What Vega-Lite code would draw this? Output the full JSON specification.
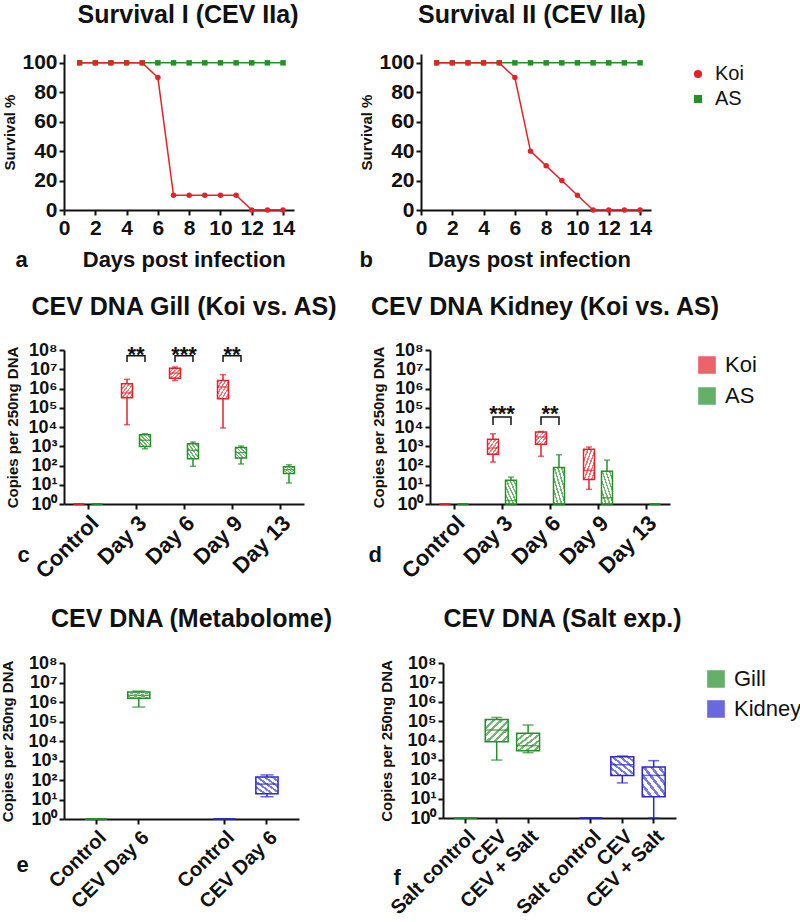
{
  "$schema": "https://vega.github.io/schema/vega-lite/v6.json",
  "background": "white",
  "padding": {"left": 0, "top": 2, "right": 2, "bottom": 0},
  "config": {
    "view": {"stroke": null},
    "font": "Liberation Sans",
    "axis": {"grid": false, "domainColor": "#111111", "domainWidth": 2, "tickColor": "#111111", "tickWidth": 2, "tickSize": 5, "labelColor": "#111111", "labelFont": "Liberation Sans", "labelFontWeight": "bold", "labelFontSize": 21, "labelPadding": 2, "labelFlush": false, "labelOverlap": false, "titleColor": "#111111", "titleFont": "Liberation Sans", "titleFontWeight": "bold", "titleFontSize": 15},
    "title": {"font": "Liberation Sans", "fontSize": 25, "fontWeight": "bold", "color": "#111111", "frame": "group", "anchor": "middle"},
    "legend": {"labelFont": "Liberation Sans", "labelColor": "#111111", "labelFontSize": 22}
  },
  "datasets": {
    "surv": [
      {"panel": "I", "group": "AS", "day": 1, "survival": 100}, {"panel": "I", "group": "AS", "day": 2, "survival": 100}, {"panel": "I", "group": "AS", "day": 3, "survival": 100}, {"panel": "I", "group": "AS", "day": 4, "survival": 100}, {"panel": "I", "group": "AS", "day": 5, "survival": 100}, {"panel": "I", "group": "AS", "day": 6, "survival": 100}, {"panel": "I", "group": "AS", "day": 7, "survival": 100}, {"panel": "I", "group": "AS", "day": 8, "survival": 100}, {"panel": "I", "group": "AS", "day": 9, "survival": 100}, {"panel": "I", "group": "AS", "day": 10, "survival": 100}, {"panel": "I", "group": "AS", "day": 11, "survival": 100}, {"panel": "I", "group": "AS", "day": 12, "survival": 100}, {"panel": "I", "group": "AS", "day": 13, "survival": 100}, {"panel": "I", "group": "AS", "day": 14, "survival": 100},
      {"panel": "I", "group": "Koi", "day": 1, "survival": 100}, {"panel": "I", "group": "Koi", "day": 2, "survival": 100}, {"panel": "I", "group": "Koi", "day": 3, "survival": 100}, {"panel": "I", "group": "Koi", "day": 4, "survival": 100}, {"panel": "I", "group": "Koi", "day": 5, "survival": 100}, {"panel": "I", "group": "Koi", "day": 6, "survival": 90}, {"panel": "I", "group": "Koi", "day": 7, "survival": 10}, {"panel": "I", "group": "Koi", "day": 8, "survival": 10}, {"panel": "I", "group": "Koi", "day": 9, "survival": 10}, {"panel": "I", "group": "Koi", "day": 10, "survival": 10}, {"panel": "I", "group": "Koi", "day": 11, "survival": 10}, {"panel": "I", "group": "Koi", "day": 12, "survival": 0}, {"panel": "I", "group": "Koi", "day": 13, "survival": 0}, {"panel": "I", "group": "Koi", "day": 14, "survival": 0},
      {"panel": "II", "group": "AS", "day": 1, "survival": 100}, {"panel": "II", "group": "AS", "day": 2, "survival": 100}, {"panel": "II", "group": "AS", "day": 3, "survival": 100}, {"panel": "II", "group": "AS", "day": 4, "survival": 100}, {"panel": "II", "group": "AS", "day": 5, "survival": 100}, {"panel": "II", "group": "AS", "day": 6, "survival": 100}, {"panel": "II", "group": "AS", "day": 7, "survival": 100}, {"panel": "II", "group": "AS", "day": 8, "survival": 100}, {"panel": "II", "group": "AS", "day": 9, "survival": 100}, {"panel": "II", "group": "AS", "day": 10, "survival": 100}, {"panel": "II", "group": "AS", "day": 11, "survival": 100}, {"panel": "II", "group": "AS", "day": 12, "survival": 100}, {"panel": "II", "group": "AS", "day": 13, "survival": 100}, {"panel": "II", "group": "AS", "day": 14, "survival": 100},
      {"panel": "II", "group": "Koi", "day": 1, "survival": 100}, {"panel": "II", "group": "Koi", "day": 2, "survival": 100}, {"panel": "II", "group": "Koi", "day": 3, "survival": 100}, {"panel": "II", "group": "Koi", "day": 4, "survival": 100}, {"panel": "II", "group": "Koi", "day": 5, "survival": 100}, {"panel": "II", "group": "Koi", "day": 6, "survival": 90}, {"panel": "II", "group": "Koi", "day": 7, "survival": 40}, {"panel": "II", "group": "Koi", "day": 8, "survival": 30}, {"panel": "II", "group": "Koi", "day": 9, "survival": 20}, {"panel": "II", "group": "Koi", "day": 10, "survival": 10}, {"panel": "II", "group": "Koi", "day": 11, "survival": 0}, {"panel": "II", "group": "Koi", "day": 12, "survival": 0}, {"panel": "II", "group": "Koi", "day": 13, "survival": 0}, {"panel": "II", "group": "Koi", "day": 14, "survival": 0}
    ],
    "boxes": [
      {"panel": "c", "cat": "Control", "group": "Koi", "min": 1, "q1": 1, "median": 1, "q3": 1, "max": 1},
      {"panel": "c", "cat": "Control", "group": "AS", "min": 1, "q1": 1, "median": 1, "q3": 1, "max": 1},
      {"panel": "c", "cat": "Day 3", "group": "Koi", "min": 13200, "q1": 331000, "median": 589000, "q3": 1780000, "max": 3020000},
      {"panel": "c", "cat": "Day 3", "group": "AS", "min": 741, "q1": 977, "median": 2040, "q3": 3980, "max": 4470},
      {"panel": "c", "cat": "Day 6", "group": "Koi", "min": 2570000, "q1": 3390000, "median": 6310000, "q3": 11200000, "max": 13200000},
      {"panel": "c", "cat": "Day 6", "group": "AS", "min": 91, "q1": 224, "median": 617, "q3": 1350, "max": 1660},
      {"panel": "c", "cat": "Day 9", "group": "Koi", "min": 8910, "q1": 295000, "median": 1200000, "q3": 2570000, "max": 5250000},
      {"panel": "c", "cat": "Day 9", "group": "AS", "min": 120, "q1": 245, "median": 468, "q3": 851, "max": 1020},
      {"panel": "c", "cat": "Day 13", "group": "AS", "min": 12.3, "q1": 38.9, "median": 60.3, "q3": 87.1, "max": 110},
      {"panel": "d", "cat": "Control", "group": "Koi", "min": 1, "q1": 1, "median": 1, "q3": 1, "max": 1},
      {"panel": "d", "cat": "Control", "group": "AS", "min": 1, "q1": 1, "median": 1, "q3": 1, "max": 1},
      {"panel": "d", "cat": "Day 3", "group": "Koi", "min": 151, "q1": 380, "median": 813, "q3": 2290, "max": 4470},
      {"panel": "d", "cat": "Day 3", "group": "AS", "min": 1, "q1": 1, "median": 1.5, "q3": 17, "max": 25},
      {"panel": "d", "cat": "Day 6", "group": "Koi", "min": 302, "q1": 1260, "median": 3020, "q3": 5500, "max": 5890},
      {"panel": "d", "cat": "Day 6", "group": "AS", "min": 1, "q1": 1, "median": 1, "q3": 79, "max": 363},
      {"panel": "d", "cat": "Day 9", "group": "Koi", "min": 5.75, "q1": 19, "median": 56, "q3": 692, "max": 912},
      {"panel": "d", "cat": "Day 9", "group": "AS", "min": 1, "q1": 1, "median": 2.1, "q3": 50, "max": 190},
      {"panel": "d", "cat": "Day 13", "group": "AS", "min": 1, "q1": 1, "median": 1, "q3": 1, "max": 1},
      {"panel": "e", "cat": "Gill|Control", "group": "Gill", "min": 1, "q1": 1, "median": 1, "q3": 1, "max": 1},
      {"panel": "e", "cat": "Gill|CEV Day 6", "group": "Gill", "min": 550000, "q1": 1550000, "median": 2190000, "q3": 3240000, "max": 3630000},
      {"panel": "e", "cat": "Kidney|Control", "group": "Kidney", "min": 1, "q1": 1, "median": 1, "q3": 1, "max": 1},
      {"panel": "e", "cat": "Kidney|CEV Day 6", "group": "Kidney", "min": 13.8, "q1": 20, "median": 61.7, "q3": 141, "max": 182},
      {"panel": "f", "cat": "Gill|Salt control", "group": "Gill", "min": 1, "q1": 1, "median": 1, "q3": 1, "max": 1},
      {"panel": "f", "cat": "Gill|CEV", "group": "Gill", "min": 977, "q1": 8710, "median": 34700, "q3": 123000, "max": 155000},
      {"panel": "f", "cat": "Gill|CEV + Salt", "group": "Gill", "min": 2340, "q1": 2950, "median": 5370, "q3": 24000, "max": 63100},
      {"panel": "f", "cat": "Kidney|Salt control", "group": "Kidney", "min": 1, "q1": 1, "median": 1, "q3": 1, "max": 1},
      {"panel": "f", "cat": "Kidney|CEV", "group": "Kidney", "min": 64.6, "q1": 158, "median": 562, "q3": 1450, "max": 1580},
      {"panel": "f", "cat": "Kidney|CEV + Salt", "group": "Kidney", "min": 1, "q1": 12.6, "median": 158, "q3": 427, "max": 912}
    ],
    "brackets": [
      {"panel": "c", "cat": "Day 3", "group": "Koi", "by": 24000000, "ord": 1}, {"panel": "c", "cat": "Day 3", "group": "Koi", "by": 50000000, "ord": 2}, {"panel": "c", "cat": "Day 3", "group": "AS", "by": 50000000, "ord": 3}, {"panel": "c", "cat": "Day 3", "group": "AS", "by": 24000000, "ord": 4},
      {"panel": "c", "cat": "Day 6", "group": "Koi", "by": 24000000, "ord": 1}, {"panel": "c", "cat": "Day 6", "group": "Koi", "by": 50000000, "ord": 2}, {"panel": "c", "cat": "Day 6", "group": "AS", "by": 50000000, "ord": 3}, {"panel": "c", "cat": "Day 6", "group": "AS", "by": 24000000, "ord": 4},
      {"panel": "c", "cat": "Day 9", "group": "Koi", "by": 24000000, "ord": 1}, {"panel": "c", "cat": "Day 9", "group": "Koi", "by": 50000000, "ord": 2}, {"panel": "c", "cat": "Day 9", "group": "AS", "by": 50000000, "ord": 3}, {"panel": "c", "cat": "Day 9", "group": "AS", "by": 24000000, "ord": 4},
      {"panel": "d", "cat": "Day 3", "group": "Koi", "by": 12600, "ord": 1}, {"panel": "d", "cat": "Day 3", "group": "Koi", "by": 33000, "ord": 2}, {"panel": "d", "cat": "Day 3", "group": "AS", "by": 33000, "ord": 3}, {"panel": "d", "cat": "Day 3", "group": "AS", "by": 12600, "ord": 4},
      {"panel": "d", "cat": "Day 6", "group": "Koi", "by": 12600, "ord": 1}, {"panel": "d", "cat": "Day 6", "group": "Koi", "by": 33000, "ord": 2}, {"panel": "d", "cat": "Day 6", "group": "AS", "by": 33000, "ord": 3}, {"panel": "d", "cat": "Day 6", "group": "AS", "by": 12600, "ord": 4}
    ],
    "stars": [
      {"panel": "c", "cat": "Day 3", "label": "**", "sy": 25000000},
      {"panel": "c", "cat": "Day 6", "label": "***", "sy": 25000000},
      {"panel": "c", "cat": "Day 9", "label": "**", "sy": 25000000},
      {"panel": "d", "cat": "Day 3", "label": "***", "sy": 19500},
      {"panel": "d", "cat": "Day 6", "label": "**", "sy": 19500}
    ]
  },
  "spacing": 25,
  "resolve": {"scale": {"color": "independent", "stroke": "independent", "shape": "independent"}},
  "vconcat": [
    {
      "hconcat": [
        {
          "width": 230, "height": 156,
          "title": {"text": "Survival I (CEV IIa)", "offset": 24, "dx": 9},
          "data": {"name": "surv"},
          "transform": [{"filter": "datum.panel === 'I'"}],
          "encoding": {
            "x": {"field": "day", "type": "quantitative", "scale": {"domain": [0, 14.7], "nice": false}, "axis": {"values": [0, 2, 4, 6, 8, 10, 12, 14], "title": "a\u00a0\u00a0\u00a0\u00a0\u00a0\u00a0\u00a0\u00a0\u00a0Days post infection", "titleFontSize": 22, "titleAlign": "left", "titleAnchor": "start", "titleX": -49, "titlePadding": 11}},
            "y": {"field": "survival", "type": "quantitative", "scale": {"domain": [0, 106], "nice": false}, "axis": {"values": [0, 20, 40, 60, 80, 100], "title": "Survival %", "titlePadding": 4}},
            "color": {"field": "group", "type": "nominal", "scale": {"domain": ["Koi", "AS"], "range": ["#e3232b", "#24902a"]}, "legend": null}
          },
          "layer": [
            {"mark": {"type": "line", "strokeWidth": 1.5}},
            {"mark": {"type": "point", "filled": true, "size": 30, "opacity": 1}, "encoding": {"shape": {"field": "group", "type": "nominal", "scale": {"domain": ["Koi", "AS"], "range": ["circle", "square"]}, "legend": null}}}
          ]
        },
        {
          "width": 230, "height": 156,
          "title": {"text": "Survival II (CEV IIa)", "offset": 24, "dx": -4},
          "data": {"name": "surv"},
          "transform": [{"filter": "datum.panel === 'II'"}],
          "encoding": {
            "x": {"field": "day", "type": "quantitative", "scale": {"domain": [0, 14.7], "nice": false}, "axis": {"values": [0, 2, 4, 6, 8, 10, 12, 14], "title": "b\u00a0\u00a0\u00a0\u00a0\u00a0\u00a0\u00a0\u00a0\u00a0Days post infection", "titleFontSize": 22, "titleAlign": "left", "titleAnchor": "start", "titleX": -62, "titlePadding": 11}},
            "y": {"field": "survival", "type": "quantitative", "scale": {"domain": [0, 106], "nice": false}, "axis": {"values": [0, 20, 40, 60, 80, 100], "title": "Survival %", "titlePadding": 4}},
            "color": {"field": "group", "type": "nominal", "scale": {"domain": ["Koi", "AS"], "range": ["#e3232b", "#24902a"]}, "legend": {"title": null, "offset": 27, "padding": 10, "symbolSize": 45, "labelFontSize": 20, "labelFontWeight": "normal", "rowPadding": 5, "labelOffset": 7}}
          },
          "layer": [
            {"mark": {"type": "line", "strokeWidth": 1.5}},
            {"mark": {"type": "point", "filled": true, "size": 30, "opacity": 1}, "encoding": {"shape": {"field": "group", "type": "nominal", "scale": {"domain": ["Koi", "AS"], "range": ["circle", "square"]}, "legend": {"title": null, "offset": 27, "padding": 10, "symbolSize": 45, "labelFontSize": 20, "labelFontWeight": "normal", "rowPadding": 5, "labelOffset": 7}}}}
          ]
        }
      ],
      "spacing": 60,
      "resolve": {"scale": {"color": "independent", "stroke": "independent", "shape": "independent"}}
    },
    {
      "spacing": 24,
      "resolve": {"scale": {"color": "independent", "stroke": "independent", "shape": "independent"}},
      "vconcat": [
        {
          "hconcat": [
            {
              "width": 240, "height": 154,
              "title": {"text": "CEV DNA Gill (Koi vs. AS)", "offset": 21},
              "layer": [
                {
                  "data": {"name": "boxes"}, "transform": [{"filter": "datum.panel === 'c'"}],
                  "mark": {"type": "rule", "strokeWidth": 1.5},
                  "encoding": {
                    "x": {"field": "cat", "type": "nominal", "sort": null, "scale": {"domain": ["Control", "Day 3", "Day 6", "Day 9", "Day 13"], "paddingInner": 0, "paddingOuter": 0}, "axis": {"labelAngle": -45, "labelFontSize": 22, "title": "c", "titleFontSize": 22, "titleAlign": "left", "titleX": -47, "titleY": 57, "titleBaseline": "alphabetic", "labelPadding": 3}},
                    "xOffset": {"field": "group", "type": "nominal", "scale": {"domain": ["Koi", "AS"], "paddingInner": 0.39, "paddingOuter": 0.53}},
                    "y": {"field": "min", "type": "quantitative", "scale": {"type": "log", "domain": [1, 100000000], "nice": false}, "axis": {"title": "Copies per 250ng DNA", "values": [1, 10, 100, 1000, 10000, 100000, 1000000, 10000000, 100000000], "labelExpr": "'10' + ['⁰','¹','²','³','⁴','⁵','⁶','⁷','⁸'][round(log(datum.value)/LN10)]", "labelFontSize": 18, "titlePadding": 8}},
                    "y2": {"field": "max"},
                    "color": {"field": "group", "type": "nominal", "scale": {"domain": ["Koi", "AS"], "range": ["#e3232b", "#24902a"]}, "legend": null}
                  }
                },
                {
                  "data": {"name": "boxes"}, "transform": [{"filter": "datum.panel === 'c' && datum.group === 'Koi'"}],
                  "mark": {"type": "bar", "strokeWidth": 1.5, "fill": {"gradient": "linear", "x1": 0, "y1": 0, "x2": 1, "y2": 1, "stops": [{"offset":0,"color":"#ee7479"},{"offset":0.07,"color":"#ee7479"},{"offset":0.07,"color":"#ffffff"},{"offset":0.1667,"color":"#ffffff"},{"offset":0.1667,"color":"#ee7479"},{"offset":0.2367,"color":"#ee7479"},{"offset":0.2367,"color":"#ffffff"},{"offset":0.3333,"color":"#ffffff"},{"offset":0.3333,"color":"#ee7479"},{"offset":0.4033,"color":"#ee7479"},{"offset":0.4033,"color":"#ffffff"},{"offset":0.5,"color":"#ffffff"},{"offset":0.5,"color":"#ee7479"},{"offset":0.57,"color":"#ee7479"},{"offset":0.57,"color":"#ffffff"},{"offset":0.6667,"color":"#ffffff"},{"offset":0.6667,"color":"#ee7479"},{"offset":0.7367,"color":"#ee7479"},{"offset":0.7367,"color":"#ffffff"},{"offset":0.8333,"color":"#ffffff"},{"offset":0.8333,"color":"#ee7479"},{"offset":0.9033,"color":"#ee7479"},{"offset":0.9033,"color":"#ffffff"},{"offset":1,"color":"#ffffff"}]}},
                  "encoding": {
                    "x": {"field": "cat", "type": "nominal", "sort": null},
                    "xOffset": {"field": "group", "type": "nominal"},
                    "y": {"field": "q1", "type": "quantitative"},
                    "y2": {"field": "q3"},
                    "stroke": {"field": "group", "type": "nominal", "scale": {"domain": ["Koi", "AS"], "range": ["#e3232b", "#24902a"]}, "legend": null}
                  }
                },
                {
                  "data": {"name": "boxes"}, "transform": [{"filter": "datum.panel === 'c' && datum.group === 'AS'"}],
                  "mark": {"type": "bar", "strokeWidth": 1.5, "fill": {"gradient": "linear", "x1": 0, "y1": 1, "x2": 1, "y2": 0, "stops": [{"offset":0,"color":"#72b874"},{"offset":0.07,"color":"#72b874"},{"offset":0.07,"color":"#ffffff"},{"offset":0.1667,"color":"#ffffff"},{"offset":0.1667,"color":"#72b874"},{"offset":0.2367,"color":"#72b874"},{"offset":0.2367,"color":"#ffffff"},{"offset":0.3333,"color":"#ffffff"},{"offset":0.3333,"color":"#72b874"},{"offset":0.4033,"color":"#72b874"},{"offset":0.4033,"color":"#ffffff"},{"offset":0.5,"color":"#ffffff"},{"offset":0.5,"color":"#72b874"},{"offset":0.57,"color":"#72b874"},{"offset":0.57,"color":"#ffffff"},{"offset":0.6667,"color":"#ffffff"},{"offset":0.6667,"color":"#72b874"},{"offset":0.7367,"color":"#72b874"},{"offset":0.7367,"color":"#ffffff"},{"offset":0.8333,"color":"#ffffff"},{"offset":0.8333,"color":"#72b874"},{"offset":0.9033,"color":"#72b874"},{"offset":0.9033,"color":"#ffffff"},{"offset":1,"color":"#ffffff"}]}},
                  "encoding": {
                    "x": {"field": "cat", "type": "nominal", "sort": null},
                    "xOffset": {"field": "group", "type": "nominal"},
                    "y": {"field": "q1", "type": "quantitative"},
                    "y2": {"field": "q3"},
                    "stroke": {"field": "group", "type": "nominal", "legend": null}
                  }
                },
                {
                  "data": {"name": "boxes"}, "transform": [{"filter": "datum.panel === 'c'"}],
                  "mark": {"type": "tick", "thickness": 1.5, "size": 11},
                  "encoding": {
                    "x": {"field": "cat", "type": "nominal", "sort": null},
                    "xOffset": {"field": "group", "type": "nominal"},
                    "y": {"field": "median", "type": "quantitative"},
                    "color": {"field": "group", "type": "nominal", "legend": null}
                  }
                },
                {
                  "data": {"name": "boxes"}, "transform": [{"filter": "datum.panel === 'c'"}, {"fold": ["min", "max"], "as": ["stat", "v"]}],
                  "mark": {"type": "tick", "thickness": 1.5, "size": 6},
                  "encoding": {
                    "x": {"field": "cat", "type": "nominal", "sort": null},
                    "xOffset": {"field": "group", "type": "nominal"},
                    "y": {"field": "v", "type": "quantitative"},
                    "color": {"field": "group", "type": "nominal", "legend": null}
                  }
                },
                {
                  "data": {"name": "brackets"}, "transform": [{"filter": "datum.panel === 'c'"}],
                  "mark": {"type": "line", "color": "#111111", "strokeWidth": 1.5},
                  "encoding": {
                    "x": {"field": "cat", "type": "nominal", "sort": null},
                    "xOffset": {"field": "group", "type": "nominal"},
                    "y": {"field": "by", "type": "quantitative"},
                    "detail": {"field": "cat", "type": "nominal"},
                    "order": {"field": "ord", "type": "quantitative"}
                  }
                },
                {
                  "data": {"name": "stars"}, "transform": [{"filter": "datum.panel === 'c'"}],
                  "mark": {"type": "text", "fontSize": 22, "fontWeight": "bold", "baseline": "alphabetic", "align": "center", "color": "#111111"},
                  "encoding": {
                    "x": {"field": "cat", "type": "nominal", "sort": null},
                    "y": {"field": "sy", "type": "quantitative"},
                    "text": {"field": "label"}
                  }
                }
              ]
            },
            {
              "width": 240, "height": 154,
              "title": {"text": "CEV DNA Kidney (Koi vs. AS)", "offset": 21, "dx": -5},
              "layer": [
                {
                  "data": {"name": "boxes"}, "transform": [{"filter": "datum.panel === 'd'"}],
                  "mark": {"type": "rule", "strokeWidth": 1.5},
                  "encoding": {
                    "x": {"field": "cat", "type": "nominal", "sort": null, "scale": {"domain": ["Control", "Day 3", "Day 6", "Day 9", "Day 13"], "paddingInner": 0, "paddingOuter": 0}, "axis": {"labelAngle": -45, "labelFontSize": 22, "title": "d", "titleFontSize": 22, "titleAlign": "left", "titleX": -62, "titleY": 57, "titleBaseline": "alphabetic", "labelPadding": 3}},
                    "xOffset": {"field": "group", "type": "nominal", "scale": {"domain": ["Koi", "AS"], "paddingInner": 0.39, "paddingOuter": 0.53}},
                    "y": {"field": "min", "type": "quantitative", "scale": {"type": "log", "domain": [1, 100000000], "nice": false}, "axis": {"title": "Copies per 250ng DNA", "values": [1, 10, 100, 1000, 10000, 100000, 1000000, 10000000, 100000000], "labelExpr": "'10' + ['⁰','¹','²','³','⁴','⁵','⁶','⁷','⁸'][round(log(datum.value)/LN10)]", "labelFontSize": 18, "titlePadding": 8}},
                    "y2": {"field": "max"},
                    "color": {"field": "group", "type": "nominal", "scale": {"domain": ["Koi", "AS"], "range": ["#e3232b", "#24902a"]}, "legend": {"title": null, "offset": 22, "padding": 4, "symbolType": "square", "symbolSize": 260, "symbolStrokeWidth": 1.5, "symbolOpacity": 0.7, "labelFontSize": 22, "labelFontWeight": "normal", "rowPadding": 7, "labelOffset": 7}}
                  }
                },
                {
                  "data": {"name": "boxes"}, "transform": [{"filter": "datum.panel === 'd' && datum.group === 'Koi'"}],
                  "mark": {"type": "bar", "strokeWidth": 1.5, "fill": {"gradient": "linear", "x1": 0, "y1": 0, "x2": 1, "y2": 1, "stops": [{"offset":0,"color":"#ee7479"},{"offset":0.07,"color":"#ee7479"},{"offset":0.07,"color":"#ffffff"},{"offset":0.1667,"color":"#ffffff"},{"offset":0.1667,"color":"#ee7479"},{"offset":0.2367,"color":"#ee7479"},{"offset":0.2367,"color":"#ffffff"},{"offset":0.3333,"color":"#ffffff"},{"offset":0.3333,"color":"#ee7479"},{"offset":0.4033,"color":"#ee7479"},{"offset":0.4033,"color":"#ffffff"},{"offset":0.5,"color":"#ffffff"},{"offset":0.5,"color":"#ee7479"},{"offset":0.57,"color":"#ee7479"},{"offset":0.57,"color":"#ffffff"},{"offset":0.6667,"color":"#ffffff"},{"offset":0.6667,"color":"#ee7479"},{"offset":0.7367,"color":"#ee7479"},{"offset":0.7367,"color":"#ffffff"},{"offset":0.8333,"color":"#ffffff"},{"offset":0.8333,"color":"#ee7479"},{"offset":0.9033,"color":"#ee7479"},{"offset":0.9033,"color":"#ffffff"},{"offset":1,"color":"#ffffff"}]}},
                  "encoding": {
                    "x": {"field": "cat", "type": "nominal", "sort": null},
                    "xOffset": {"field": "group", "type": "nominal"},
                    "y": {"field": "q1", "type": "quantitative"},
                    "y2": {"field": "q3"},
                    "stroke": {"field": "group", "type": "nominal", "scale": {"domain": ["Koi", "AS"], "range": ["#e3232b", "#24902a"]}, "legend": null}
                  }
                },
                {
                  "data": {"name": "boxes"}, "transform": [{"filter": "datum.panel === 'd' && datum.group === 'AS'"}],
                  "mark": {"type": "bar", "strokeWidth": 1.5, "fill": {"gradient": "linear", "x1": 0, "y1": 1, "x2": 1, "y2": 0, "stops": [{"offset":0,"color":"#72b874"},{"offset":0.07,"color":"#72b874"},{"offset":0.07,"color":"#ffffff"},{"offset":0.1667,"color":"#ffffff"},{"offset":0.1667,"color":"#72b874"},{"offset":0.2367,"color":"#72b874"},{"offset":0.2367,"color":"#ffffff"},{"offset":0.3333,"color":"#ffffff"},{"offset":0.3333,"color":"#72b874"},{"offset":0.4033,"color":"#72b874"},{"offset":0.4033,"color":"#ffffff"},{"offset":0.5,"color":"#ffffff"},{"offset":0.5,"color":"#72b874"},{"offset":0.57,"color":"#72b874"},{"offset":0.57,"color":"#ffffff"},{"offset":0.6667,"color":"#ffffff"},{"offset":0.6667,"color":"#72b874"},{"offset":0.7367,"color":"#72b874"},{"offset":0.7367,"color":"#ffffff"},{"offset":0.8333,"color":"#ffffff"},{"offset":0.8333,"color":"#72b874"},{"offset":0.9033,"color":"#72b874"},{"offset":0.9033,"color":"#ffffff"},{"offset":1,"color":"#ffffff"}]}},
                  "encoding": {
                    "x": {"field": "cat", "type": "nominal", "sort": null},
                    "xOffset": {"field": "group", "type": "nominal"},
                    "y": {"field": "q1", "type": "quantitative"},
                    "y2": {"field": "q3"},
                    "stroke": {"field": "group", "type": "nominal", "legend": null}
                  }
                },
                {
                  "data": {"name": "boxes"}, "transform": [{"filter": "datum.panel === 'd'"}],
                  "mark": {"type": "tick", "thickness": 1.5, "size": 11},
                  "encoding": {
                    "x": {"field": "cat", "type": "nominal", "sort": null},
                    "xOffset": {"field": "group", "type": "nominal"},
                    "y": {"field": "median", "type": "quantitative"},
                    "color": {"field": "group", "type": "nominal"}
                  }
                },
                {
                  "data": {"name": "boxes"}, "transform": [{"filter": "datum.panel === 'd'"}, {"fold": ["min", "max"], "as": ["stat", "v"]}],
                  "mark": {"type": "tick", "thickness": 1.5, "size": 6},
                  "encoding": {
                    "x": {"field": "cat", "type": "nominal", "sort": null},
                    "xOffset": {"field": "group", "type": "nominal"},
                    "y": {"field": "v", "type": "quantitative"},
                    "color": {"field": "group", "type": "nominal"}
                  }
                },
                {
                  "data": {"name": "brackets"}, "transform": [{"filter": "datum.panel === 'd'"}],
                  "mark": {"type": "line", "color": "#111111", "strokeWidth": 1.5},
                  "encoding": {
                    "x": {"field": "cat", "type": "nominal", "sort": null},
                    "xOffset": {"field": "group", "type": "nominal"},
                    "y": {"field": "by", "type": "quantitative"},
                    "detail": {"field": "cat", "type": "nominal"},
                    "order": {"field": "ord", "type": "quantitative"}
                  }
                },
                {
                  "data": {"name": "stars"}, "transform": [{"filter": "datum.panel === 'd'"}],
                  "mark": {"type": "text", "fontSize": 22, "fontWeight": "bold", "baseline": "alphabetic", "align": "center", "color": "#111111"},
                  "encoding": {
                    "x": {"field": "cat", "type": "nominal", "sort": null},
                    "y": {"field": "sy", "type": "quantitative"},
                    "text": {"field": "label"}
                  }
                }
              ]
            }
          ],
          "spacing": 30,
          "resolve": {"scale": {"color": "independent", "stroke": "independent", "shape": "independent"}}
        },
        {
          "hconcat": [
            {
              "width": 235, "height": 156,
              "title": {"text": "CEV DNA (Metabolome)", "offset": 22, "dx": 10},
              "data": {"name": "boxes"},
              "transform": [{"filter": "datum.panel === 'e'"}],
              "layer": [
                {
                  "mark": {"type": "rule", "strokeWidth": 1.5},
                  "encoding": {
                    "x": {"field": "cat", "type": "nominal", "sort": null, "scale": {"domain": ["Gill|Control", "Gill|CEV Day 6", "gap", "Kidney|Control", "Kidney|CEV Day 6"], "paddingInner": 0, "paddingOuter": 0.25}, "axis": {"values": ["Gill|Control", "Gill|CEV Day 6", "Kidney|Control", "Kidney|CEV Day 6"], "labelExpr": "split(datum.value, '|')[1]", "labelAngle": -45, "labelFontSize": 20, "title": "e", "titleFontSize": 22, "titleAlign": "left", "titleX": -48, "titleY": 52, "titleBaseline": "alphabetic", "labelPadding": 3}},
                    "y": {"field": "min", "type": "quantitative", "scale": {"type": "log", "domain": [1, 100000000], "nice": false}, "axis": {"title": "Copies per 250ng DNA", "values": [1, 10, 100, 1000, 10000, 100000, 1000000, 10000000, 100000000], "labelExpr": "'10' + ['⁰','¹','²','³','⁴','⁵','⁶','⁷','⁸'][round(log(datum.value)/LN10)]", "labelFontSize": 18, "titlePadding": 13}},
                    "y2": {"field": "max"},
                    "color": {"field": "group", "type": "nominal", "scale": {"domain": ["Gill", "Kidney"], "range": ["#24902a", "#2a2ad0"]}, "legend": null}
                  }
                },
                {
                  "transform": [{"filter": "datum.group === 'Gill'"}],
                  "mark": {"type": "bar", "strokeWidth": 1.5, "width": {"band": 0.52}, "fill": {"gradient": "linear", "x1": 0, "y1": 0, "x2": 1, "y2": 1, "stops": [{"offset":0,"color":"#72b874"},{"offset":0.07,"color":"#72b874"},{"offset":0.07,"color":"#ffffff"},{"offset":0.1667,"color":"#ffffff"},{"offset":0.1667,"color":"#72b874"},{"offset":0.2367,"color":"#72b874"},{"offset":0.2367,"color":"#ffffff"},{"offset":0.3333,"color":"#ffffff"},{"offset":0.3333,"color":"#72b874"},{"offset":0.4033,"color":"#72b874"},{"offset":0.4033,"color":"#ffffff"},{"offset":0.5,"color":"#ffffff"},{"offset":0.5,"color":"#72b874"},{"offset":0.57,"color":"#72b874"},{"offset":0.57,"color":"#ffffff"},{"offset":0.6667,"color":"#ffffff"},{"offset":0.6667,"color":"#72b874"},{"offset":0.7367,"color":"#72b874"},{"offset":0.7367,"color":"#ffffff"},{"offset":0.8333,"color":"#ffffff"},{"offset":0.8333,"color":"#72b874"},{"offset":0.9033,"color":"#72b874"},{"offset":0.9033,"color":"#ffffff"},{"offset":1,"color":"#ffffff"}]}},
                  "encoding": {
                    "x": {"field": "cat", "type": "nominal", "sort": null},
                    "y": {"field": "q1", "type": "quantitative"},
                    "y2": {"field": "q3"},
                    "stroke": {"field": "group", "type": "nominal", "scale": {"domain": ["Gill", "Kidney"], "range": ["#24902a", "#2a2ad0"]}, "legend": null}
                  }
                },
                {
                  "transform": [{"filter": "datum.group === 'Kidney'"}],
                  "mark": {"type": "bar", "strokeWidth": 1.5, "width": {"band": 0.52}, "fill": {"gradient": "linear", "x1": 0, "y1": 1, "x2": 1, "y2": 0, "stops": [{"offset":0,"color":"#7a7ae6"},{"offset":0.07,"color":"#7a7ae6"},{"offset":0.07,"color":"#ffffff"},{"offset":0.1667,"color":"#ffffff"},{"offset":0.1667,"color":"#7a7ae6"},{"offset":0.2367,"color":"#7a7ae6"},{"offset":0.2367,"color":"#ffffff"},{"offset":0.3333,"color":"#ffffff"},{"offset":0.3333,"color":"#7a7ae6"},{"offset":0.4033,"color":"#7a7ae6"},{"offset":0.4033,"color":"#ffffff"},{"offset":0.5,"color":"#ffffff"},{"offset":0.5,"color":"#7a7ae6"},{"offset":0.57,"color":"#7a7ae6"},{"offset":0.57,"color":"#ffffff"},{"offset":0.6667,"color":"#ffffff"},{"offset":0.6667,"color":"#7a7ae6"},{"offset":0.7367,"color":"#7a7ae6"},{"offset":0.7367,"color":"#ffffff"},{"offset":0.8333,"color":"#ffffff"},{"offset":0.8333,"color":"#7a7ae6"},{"offset":0.9033,"color":"#7a7ae6"},{"offset":0.9033,"color":"#ffffff"},{"offset":1,"color":"#ffffff"}]}},
                  "encoding": {
                    "x": {"field": "cat", "type": "nominal", "sort": null},
                    "y": {"field": "q1", "type": "quantitative"},
                    "y2": {"field": "q3"},
                    "stroke": {"field": "group", "type": "nominal", "legend": null}
                  }
                },
                {
                  "mark": {"type": "tick", "thickness": 1.5, "size": 22},
                  "encoding": {
                    "x": {"field": "cat", "type": "nominal", "sort": null},
                    "y": {"field": "median", "type": "quantitative"},
                    "color": {"field": "group", "type": "nominal", "legend": null}
                  }
                },
                {
                  "transform": [{"fold": ["min", "max"], "as": ["stat", "v"]}],
                  "mark": {"type": "tick", "thickness": 1.5, "size": 13},
                  "encoding": {
                    "x": {"field": "cat", "type": "nominal", "sort": null},
                    "y": {"field": "v", "type": "quantitative"},
                    "color": {"field": "group", "type": "nominal", "legend": null}
                  }
                }
              ]
            },
            {
              "width": 233, "height": 155,
              "title": {"text": "CEV DNA (Salt exp.)", "offset": 22, "dx": 3},
              "data": {"name": "boxes"},
              "transform": [{"filter": "datum.panel === 'f'"}],
              "layer": [
                {
                  "mark": {"type": "rule", "strokeWidth": 1.5},
                  "encoding": {
                    "x": {"field": "cat", "type": "nominal", "sort": null, "scale": {"domain": ["Gill|Salt control", "Gill|CEV", "Gill|CEV + Salt", "gap", "Kidney|Salt control", "Kidney|CEV", "Kidney|CEV + Salt"], "paddingInner": 0, "paddingOuter": 0.21}, "axis": {"values": ["Gill|Salt control", "Gill|CEV", "Gill|CEV + Salt", "Kidney|Salt control", "Kidney|CEV", "Kidney|CEV + Salt"], "labelExpr": "split(datum.value, '|')[1]", "labelAngle": -45, "labelFontSize": 20, "title": "f", "titleFontSize": 22, "titleAlign": "left", "titleX": -50, "titleY": 66, "titleBaseline": "alphabetic", "labelPadding": 3}},
                    "y": {"field": "min", "type": "quantitative", "scale": {"type": "log", "domain": [1, 100000000], "nice": false}, "axis": {"title": "Copies per 250ng DNA", "values": [1, 10, 100, 1000, 10000, 100000, 1000000, 10000000, 100000000], "labelExpr": "'10' + ['⁰','¹','²','³','⁴','⁵','⁶','⁷','⁸'][round(log(datum.value)/LN10)]", "labelFontSize": 18, "titlePadding": 13}},
                    "y2": {"field": "max"},
                    "color": {"field": "group", "type": "nominal", "scale": {"domain": ["Gill", "Kidney"], "range": ["#24902a", "#2a2ad0"]}, "legend": {"title": null, "offset": 24, "padding": 5, "symbolType": "square", "symbolSize": 260, "symbolStrokeWidth": 1.5, "symbolOpacity": 0.7, "labelFontSize": 22, "labelFontWeight": "normal", "rowPadding": 6, "labelOffset": 7}}
                  }
                },
                {
                  "transform": [{"filter": "datum.group === 'Gill'"}],
                  "mark": {"type": "bar", "strokeWidth": 1.5, "width": {"band": 0.73}, "fill": {"gradient": "linear", "x1": 0, "y1": 0, "x2": 1, "y2": 1, "stops": [{"offset":0,"color":"#72b874"},{"offset":0.07,"color":"#72b874"},{"offset":0.07,"color":"#ffffff"},{"offset":0.1667,"color":"#ffffff"},{"offset":0.1667,"color":"#72b874"},{"offset":0.2367,"color":"#72b874"},{"offset":0.2367,"color":"#ffffff"},{"offset":0.3333,"color":"#ffffff"},{"offset":0.3333,"color":"#72b874"},{"offset":0.4033,"color":"#72b874"},{"offset":0.4033,"color":"#ffffff"},{"offset":0.5,"color":"#ffffff"},{"offset":0.5,"color":"#72b874"},{"offset":0.57,"color":"#72b874"},{"offset":0.57,"color":"#ffffff"},{"offset":0.6667,"color":"#ffffff"},{"offset":0.6667,"color":"#72b874"},{"offset":0.7367,"color":"#72b874"},{"offset":0.7367,"color":"#ffffff"},{"offset":0.8333,"color":"#ffffff"},{"offset":0.8333,"color":"#72b874"},{"offset":0.9033,"color":"#72b874"},{"offset":0.9033,"color":"#ffffff"},{"offset":1,"color":"#ffffff"}]}},
                  "encoding": {
                    "x": {"field": "cat", "type": "nominal", "sort": null},
                    "y": {"field": "q1", "type": "quantitative"},
                    "y2": {"field": "q3"},
                    "stroke": {"field": "group", "type": "nominal", "scale": {"domain": ["Gill", "Kidney"], "range": ["#24902a", "#2a2ad0"]}, "legend": null}
                  }
                },
                {
                  "transform": [{"filter": "datum.group === 'Kidney'"}],
                  "mark": {"type": "bar", "strokeWidth": 1.5, "width": {"band": 0.73}, "fill": {"gradient": "linear", "x1": 0, "y1": 1, "x2": 1, "y2": 0, "stops": [{"offset":0,"color":"#7a7ae6"},{"offset":0.07,"color":"#7a7ae6"},{"offset":0.07,"color":"#ffffff"},{"offset":0.1667,"color":"#ffffff"},{"offset":0.1667,"color":"#7a7ae6"},{"offset":0.2367,"color":"#7a7ae6"},{"offset":0.2367,"color":"#ffffff"},{"offset":0.3333,"color":"#ffffff"},{"offset":0.3333,"color":"#7a7ae6"},{"offset":0.4033,"color":"#7a7ae6"},{"offset":0.4033,"color":"#ffffff"},{"offset":0.5,"color":"#ffffff"},{"offset":0.5,"color":"#7a7ae6"},{"offset":0.57,"color":"#7a7ae6"},{"offset":0.57,"color":"#ffffff"},{"offset":0.6667,"color":"#ffffff"},{"offset":0.6667,"color":"#7a7ae6"},{"offset":0.7367,"color":"#7a7ae6"},{"offset":0.7367,"color":"#ffffff"},{"offset":0.8333,"color":"#ffffff"},{"offset":0.8333,"color":"#7a7ae6"},{"offset":0.9033,"color":"#7a7ae6"},{"offset":0.9033,"color":"#ffffff"},{"offset":1,"color":"#ffffff"}]}},
                  "encoding": {
                    "x": {"field": "cat", "type": "nominal", "sort": null},
                    "y": {"field": "q1", "type": "quantitative"},
                    "y2": {"field": "q3"},
                    "stroke": {"field": "group", "type": "nominal", "legend": null}
                  }
                },
                {
                  "mark": {"type": "tick", "thickness": 1.5, "size": 23},
                  "encoding": {
                    "x": {"field": "cat", "type": "nominal", "sort": null},
                    "y": {"field": "median", "type": "quantitative"},
                    "color": {"field": "group", "type": "nominal"}
                  }
                },
                {
                  "transform": [{"fold": ["min", "max"], "as": ["stat", "v"]}],
                  "mark": {"type": "tick", "thickness": 1.5, "size": 11},
                  "encoding": {
                    "x": {"field": "cat", "type": "nominal", "sort": null},
                    "y": {"field": "v", "type": "quantitative"},
                    "color": {"field": "group", "type": "nominal"}
                  }
                }
              ]
            }
          ],
          "spacing": 46,
          "resolve": {"scale": {"color": "independent", "stroke": "independent", "shape": "independent"}}
        }
      ]
    }
  ]
}
